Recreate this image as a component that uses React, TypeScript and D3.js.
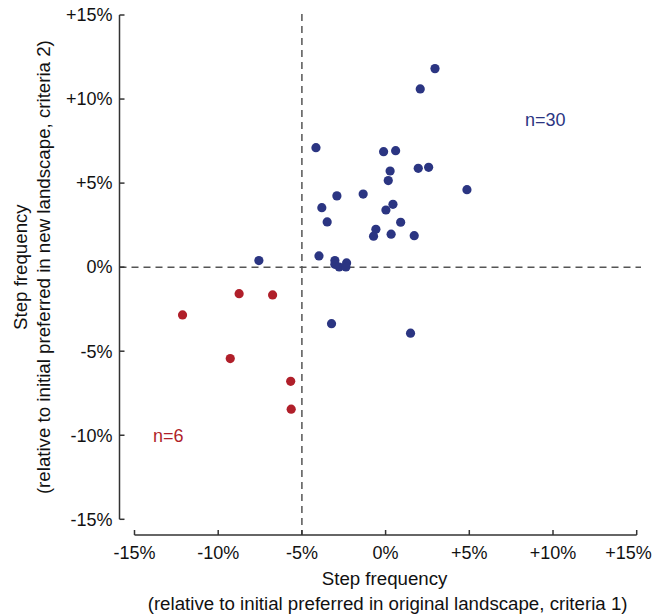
import React from "react";
import * as d3 from "d3";

const blueX = [-4.16, -0.12, 0.6, 1.95, 2.57, 0.27, 0.16, 4.86, -2.91, -1.34, -3.81, 0.44, 0.02, -3.49, 0.9, -0.58, -0.72, 0.33, 1.71, 2.95, 2.07, -3.98, -3.03, -2.33, -3.03, -2.77, -2.37, -3.23, 1.49, -7.57];
const blueY = [7.11, 6.87, 6.93, 5.88, 5.94, 5.72, 5.15, 4.61, 4.24, 4.35, 3.54, 3.74, 3.4, 2.69, 2.67, 2.25, 1.84, 1.96, 1.87, 11.81, 10.6, 0.67, 0.39, 0.25, 0.17, 0.01, 0.01, -3.36, -3.93, 0.39];
const redX = [-8.75, -6.75, -12.13, -9.28, -5.67, -5.64];
const redY = [-1.58, -1.65, -2.84, -5.44, -6.79, -8.45];

const tickValues = [-15, -10, -5, 0, 5, 10, 15];
const tickLabels = ["-15%", "-10%", "-5%", "0%", "+5%", "+10%", "+15%"];

const refX = -5;
const refY = 0;

const xLabel1 = "Step frequency";
const xLabel2 = "(relative to initial preferred in original landscape, criteria 1)";
const yLabel1 = "Step frequency";
const yLabel2 = "(relative to initial preferred in new landscape, criteria 2)";
const blueLabel = "n=30";
const redLabel = "n=6";

const BLUE = "#2b3582";
const RED = "#b01f2a";
const AXIS = "#333";
const FONT = "'Liberation Sans', Arial, Helvetica, sans-serif";

export default function App() {
  const x = d3.scaleLinear().domain([-15, 15]).range([134.5, 636.7]);
  const y = d3.scaleLinear().domain([-15, 15]).range([519.3, 15]);
  const yAxisX = 119.5;
  const xAxisY = 535;
  const blue = blueX.map((v, i) => [v, blueY[i]]);
  const red = redX.map((v, i) => [v, redY[i]]);
  return (
    <svg width={653} height={616} style={{ position: "absolute", left: 0, top: 0, background: "#fff" }} fontFamily={FONT}>
      {/* dashed reference lines */}
      <line x1={x(refX)} x2={x(refX)} y1={14} y2={xAxisY} stroke="#555" strokeWidth={1.5} strokeDasharray="7,5" />
      <line x1={yAxisX} x2={641} y1={y(refY)} y2={y(refY)} stroke="#555" strokeWidth={1.5} strokeDasharray="7,5" />
      {/* y axis */}
      <line x1={yAxisX} x2={yAxisX} y1={y(15)} y2={y(-15)} stroke={AXIS} strokeWidth={1.5} />
      {tickValues.map((t, i) => (
        <g key={"y" + t}>
          <line x1={yAxisX} x2={yAxisX + 5} y1={y(t)} y2={y(t)} stroke={AXIS} strokeWidth={1.5} />
          <text x={yAxisX - 7} y={y(t)} dy="0.35em" textAnchor="end" fontSize={18} fill="#111">{tickLabels[i]}</text>
        </g>
      ))}
      {/* x axis */}
      <line x1={x(-15)} x2={x(15)} y1={xAxisY} y2={xAxisY} stroke={AXIS} strokeWidth={1.5} />
      {tickValues.map((t, i) => (
        <g key={"x" + t}>
          <line x1={x(t)} x2={x(t)} y1={xAxisY} y2={xAxisY - 5} stroke={AXIS} strokeWidth={1.5} />
          <text x={Math.min(x(t), 652 - 23.5)} y={553} dy="0.35em" textAnchor="middle" fontSize={18} fill="#111">{tickLabels[i]}</text>
        </g>
      ))}
      {/* axis labels */}
      <text x={x(0) - 1} y={578} dy="0.35em" textAnchor="middle" fontSize={18.7} fill="#111">{xLabel1}</text>
      <text x={x(0) + 2} y={603} dy="0.35em" textAnchor="middle" fontSize={18.7} fill="#111">{xLabel2}</text>
      <text transform={`translate(20,${y(0)}) rotate(-90)`} dy="0.35em" textAnchor="middle" fontSize={18.7} fill="#111">{yLabel1}</text>
      <text transform={`translate(43,${y(0)}) rotate(-90)`} dy="0.35em" textAnchor="middle" fontSize={18.7} fill="#111">{yLabel2}</text>
      {/* points */}
      {blue.map((d, i) => (
        <circle key={"b" + i} cx={x(d[0])} cy={y(d[1])} r={4.6} fill={BLUE} />
      ))}
      {red.map((d, i) => (
        <circle key={"r" + i} cx={x(d[0])} cy={y(d[1])} r={4.6} fill={RED} />
      ))}
      <text x={525} y={126} fontSize={18} fill={BLUE}>{blueLabel}</text>
      <text x={153} y={442} fontSize={18} fill={RED}>{redLabel}</text>
    </svg>
  );
}
